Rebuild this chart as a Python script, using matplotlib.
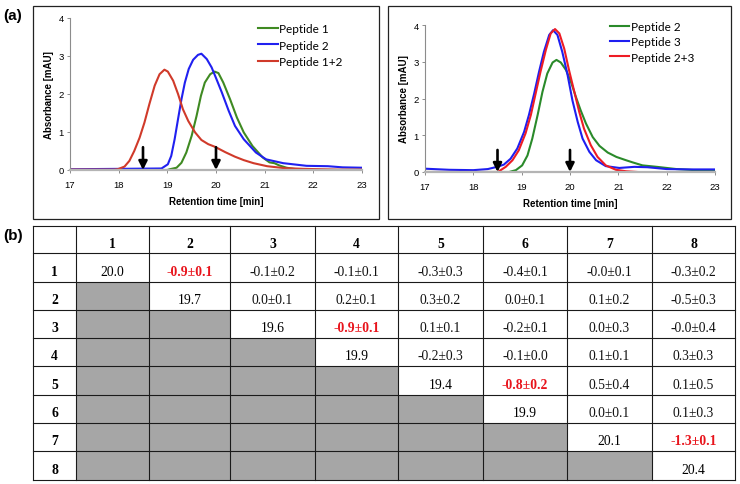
import matplotlib
matplotlib.use("Agg")
import matplotlib.pyplot as plt
from matplotlib.patches import Rectangle

# ---------------- data: panel (a), left ----------------
t_p1 = [17, 19.0, 19.05, 19.19, 19.29, 19.39, 19.5, 19.6, 19.69, 19.77, 19.88, 19.97, 20.05, 20.15,
        20.29, 20.43, 20.57, 20.75, 20.96, 21.1, 21.2, 21.3, 21.45, 21.7, 22.0, 23]
a_p1 = [0.0, 0.0, 0.02, 0.06, 0.19, 0.46, 0.9, 1.42, 1.95, 2.3, 2.52, 2.59, 2.55, 2.3,
        1.86, 1.38, 0.99, 0.63, 0.33, 0.2, 0.18, 0.12, 0.06, 0.01, 0.0, 0.0]

t_p2 = [17, 18, 18.88, 19.01, 19.08, 19.15, 19.22, 19.29, 19.36, 19.44, 19.53, 19.63, 19.7, 19.81,
        19.91, 20.01, 20.12, 20.26, 20.39, 20.57, 20.82, 21.03, 21.38, 21.86, 22.3, 22.6, 23]
a_p2 = [0.02, 0.03, 0.04, 0.15, 0.37, 0.81, 1.34, 1.86, 2.3, 2.66, 2.9, 3.03, 3.06, 2.92,
        2.7, 2.39, 2.04, 1.56, 1.16, 0.81, 0.46, 0.28, 0.18, 0.11, 0.1, 0.07, 0.06]

t_p12 = [17, 17.9, 17.98, 18.12, 18.22, 18.32, 18.43, 18.53, 18.63, 18.74, 18.84, 18.94, 19.01,
         19.12, 19.22, 19.32, 19.43, 19.57, 19.7, 19.84, 19.98, 20.19, 20.39, 20.57, 20.77, 21.05,
         21.4, 21.8, 22.5, 23]
a_p12 = [0.01, 0.01, 0.02, 0.09, 0.24, 0.5, 0.85, 1.25, 1.73, 2.22, 2.52, 2.64, 2.59,
         2.35, 2.0, 1.6, 1.29, 0.99, 0.79, 0.68, 0.61, 0.47, 0.35, 0.26, 0.18, 0.1,
         0.05, 0.03, 0.01, 0.01]

# ---------------- data: panel (a), right ----------------
t_q2 = [17, 18.74, 18.88, 19.01, 19.12, 19.22, 19.33, 19.43, 19.53, 19.64, 19.72, 19.81, 19.92,
        20.02, 20.12, 20.22, 20.33, 20.47, 20.61, 20.78, 20.96, 21.16, 21.3, 21.5, 21.8, 22.2,
        22.6, 23]
a_q2 = [0.0, 0.0, 0.05, 0.18, 0.45, 0.91, 1.55, 2.18, 2.68, 2.98, 3.05, 2.98, 2.77,
        2.45, 2.05, 1.68, 1.32, 0.95, 0.71, 0.53, 0.41, 0.32, 0.26, 0.18, 0.14, 0.08,
        0.05, 0.04]

t_q3 = [17, 17.5, 18.0, 18.3, 18.49, 18.63, 18.77, 18.91, 19.05, 19.15, 19.26, 19.36, 19.46,
        19.57, 19.65, 19.74, 19.84, 19.95, 20.05, 20.16, 20.26, 20.4, 20.54, 20.74, 21.02, 21.33,
        21.6, 22.0, 22.5, 23]
a_q3 = [0.09, 0.06, 0.05, 0.08, 0.14, 0.2, 0.36, 0.64, 1.09, 1.55, 2.14, 2.73, 3.27,
        3.73, 3.86, 3.73, 3.27, 2.64, 1.95, 1.36, 0.91, 0.55, 0.32, 0.16, 0.11, 0.14,
        0.13, 0.08, 0.07, 0.07]

t_q23 = [17, 18.5, 18.53, 18.67, 18.81, 18.94, 19.08, 19.19, 19.29, 19.39, 19.5, 19.6, 19.69,
         19.78, 19.88, 19.98, 20.09, 20.19, 20.29, 20.43, 20.57, 20.74, 20.95, 21.16, 21.4]
a_q23 = [0.0, 0.0, 0.02, 0.14, 0.32, 0.59, 1.05, 1.55, 2.14, 2.73, 3.32, 3.77, 3.89,
         3.77, 3.36, 2.77, 2.18, 1.64, 1.18, 0.73, 0.41, 0.18, 0.06, 0.02, 0.0]

arrow_times = [18.5, 20.0]

legend_left = ["Peptide 1", "Peptide 2", "Peptide 1+2"]
legend_right = ["Peptide 2", "Peptide 3", "Peptide 2+3"]

# ---------------- data: panel (b) table ----------------
headers = ["1", "2", "3", "4", "5", "6", "7", "8"]
diag_values = ["20.0", "19.7", "19.6", "19.9", "19.4", "19.9", "20.1", "20.4"]
upper_values = [
    ["-0.9±0.1", "-0.1±0.2", "-0.1±0.1", "-0.3±0.3", "-0.4±0.1", "-0.0±0.1", "-0.3±0.2"],
    ["0.0±0.1", "0.2±0.1", "0.3±0.2", "0.0±0.1", "0.1±0.2", "-0.5±0.3"],
    ["-0.9±0.1", "0.1±0.1", "-0.2±0.1", "0.0±0.3", "-0.0±0.4"],
    ["-0.2±0.3", "-0.1±0.0", "0.1±0.1", "0.3±0.3"],
    ["-0.8±0.2", "0.5±0.4", "0.1±0.5"],
    ["0.0±0.1", "0.1±0.3"],
    ["-1.3±0.1"],
    [],
]
highlight = [(1, 2), (3, 4), (5, 6), (7, 8)]

# ---------------- figure ----------------
W, H = 740, 485
fig = plt.figure(figsize=(W / 100, H / 100), dpi=100)

def fx(px):
    return px / W

def fy(py):
    return 1 - py / H

def style_axes(ax):
    ax.set_xlim(17, 23)
    ax.set_ylim(0, 4)
    ax.set_xticks([17, 18, 19, 20, 21, 22, 23])
    ax.set_yticks([0, 1, 2, 3, 4])
    for s in ["top", "right"]:
        ax.spines[s].set_visible(False)
    ax.spines["left"].set_color("#8c8c8c")
    ax.spines["left"].set_linewidth(0.8)
    ax.spines["bottom"].set_color("#b4b4b4")
    ax.spines["bottom"].set_linewidth(1.6)
    ax.tick_params(axis="both", labelsize=6.8, length=2.5, width=0.7, color="#8c8c8c", pad=2)
    ax.tick_params(axis="x", pad=4.5)
    for lab in ax.get_xticklabels() + ax.get_yticklabels():
        lab.set_family("Liberation Sans")
    ax.set_xlabel("Retention time [min]", fontsize=7.0, fontweight="bold",
                  family="Liberation Sans", labelpad=5.5)
    ax.set_ylabel("Absorbance [mAU]", fontsize=7.0, fontweight="bold",
                  family="Liberation Sans", labelpad=3)
    ax.patch.set_alpha(0)
    for t in arrow_times:
        ax.annotate("", xy=(t, 0.0), xytext=(t, 0.6),
                    arrowprops=dict(arrowstyle="-|>,head_length=0.5,head_width=0.25",
                                    color="black", lw=1.9, shrinkA=0, shrinkB=0))

# background overlay for frames and table
bg = fig.add_axes([0, 0, 1, 1])
bg.set_xlim(0, W)
bg.set_ylim(H, 0)
bg.axis("off")

bg.add_patch(Rectangle((32.5, 6.5), 346, 213, fill=False, ec="#222222", lw=0.9))
bg.add_patch(Rectangle((387.5, 6.5), 343, 213, fill=False, ec="#222222", lw=0.9))

bg.text(13, 16, "(a)", fontsize=11, fontweight="bold", family="Liberation Sans",
        ha="center", va="center")
bg.text(13, 236, "(b)", fontsize=11, fontweight="bold", family="Liberation Sans",
        ha="center", va="center")

leg_kw = dict(loc="upper left", frameon=False, prop={"family": "Lato", "size": 8.5},
              handlelength=1.65, handletextpad=0.1, borderpad=0, borderaxespad=0)

# left chromatogram
axl = fig.add_axes([fx(70), fy(171), fx(362) - fx(70), fy(19) - fy(171)])
lw = 1.5
axl.plot(t_p1, a_p1, color="#3f8a22", lw=lw, label=legend_left[0])
axl.plot(t_p2, a_p2, color="#2020f0", lw=lw, label=legend_left[1])
axl.plot(t_p12, a_p12, color="#d03a2a", lw=lw, label=legend_left[2])
style_axes(axl)
axl.legend(bbox_to_anchor=(0.644, 0.965), labelspacing=0.44, **leg_kw)

# right chromatogram
axr = fig.add_axes([fx(425), fy(173), fx(715) - fx(425), fy(26) - fy(173)])
axr.plot(t_q2, a_q2, color="#2a8a2a", lw=lw, label=legend_right[0])
axr.plot(t_q3, a_q3, color="#1e1ef0", lw=lw, label=legend_right[1])
axr.plot(t_q23, a_q23, color="#ee1c24", lw=lw, label=legend_right[2])
style_axes(axr)
axr.legend(bbox_to_anchor=(0.638, 1.027), labelspacing=0.36, **leg_kw)

# ---------------- table ----------------
col_edges = [33, 76, 149, 230, 315, 398, 483, 567, 652, 735]
row_edges = [227, 254, 283, 311, 339, 367, 396, 424, 452, 481]
grey = "#a6a6a6"
line_c = "#1a1a1a"

n = len(headers)
for i in range(n):
    for j in range(n):
        if j < i:
            x0, x1 = col_edges[j + 1], col_edges[j + 2]
            y0, y1 = row_edges[i + 1], row_edges[i + 2]
            bg.add_patch(Rectangle((x0, y0), x1 - x0, y1 - y0, fc=grey, ec="none"))

for x in col_edges:
    bg.plot([x, x], [row_edges[0], row_edges[-1]], color=line_c, lw=0.8)
for y in row_edges:
    bg.plot([col_edges[0], col_edges[-1]], [y, y], color=line_c, lw=0.8)

def cell_y(r):
    y0, y1 = row_edges[r], row_edges[r + 1]
    return y0 + 0.64 * (y1 - y0)

def cell_x(c):
    return 0.5 * (col_edges[c] + col_edges[c + 1])

fs = 9.8
for k, h in enumerate(headers):
    bg.text(cell_x(k + 1), cell_y(0), h, fontsize=fs, fontweight="bold",
            family="Liberation Serif", ha="center", va="center")
    bg.text(cell_x(0), cell_y(k + 1), h, fontsize=fs, fontweight="bold",
            family="Liberation Serif", ha="center", va="center")

for i in range(n):
    bg.text(cell_x(i + 1), cell_y(i + 1), diag_values[i], fontsize=fs,
            family="Liberation Serif", ha="center", va="center")
    for k, val in enumerate(upper_values[i]):
        j = i + 1 + k
        red = (i + 1, j + 1) in highlight
        bg.text(cell_x(j + 1), cell_y(i + 1), val, fontsize=fs,
                family="Liberation Serif", ha="center", va="center",
                color="#e8141c" if red else "#111111",
                fontweight="bold" if red else "normal")

fig.savefig("out.png", dpi=100)
